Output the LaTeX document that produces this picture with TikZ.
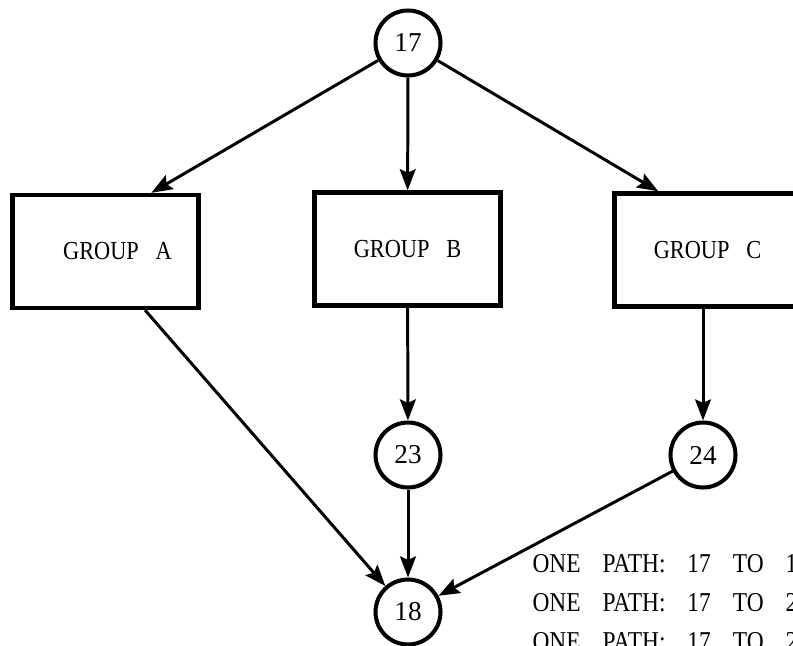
\documentclass[tikz,border=0pt]{standalone}
\usepackage{fontspec}
\setmainfont{Liberation Serif}
\newfontfamily\condfont[FakeStretch=0.86]{Liberation Serif}
\usetikzlibrary{arrows.meta, positioning, calc}

\newcommand{\gap}{\hspace{12.5pt}}

\begin{document}
\begin{tikzpicture}[->,>={Stealth[length=12pt,width=9pt,inset=2pt]},
            x=0.02cm,y=-0.02cm,line width=1.7pt,
            circ/.style={circle,draw,line width=2.3pt,minimum size=1.3cm,
               inner sep=0pt,font=\fontsize{15.5}{18}\selectfont},
            grp/.style={rectangle,draw,line width=2.5pt,minimum width=3.72cm,
               minimum height=2.26cm,font=\condfont\fontsize{14.8}{17}\selectfont},
            pathtext/.style={anchor=base west,inner sep=0pt,
               font=\condfont\fontsize{15.5}{18}\selectfont}]
            \clip (0,0) rectangle (793,645);
            % entry and the three groups
            \node[circ] (n17) at (408,43) {17};
            \node[grp] (grpA) at (105.5,251.5) {\hspace{0.48cm}GROUP\ \ \ A};
            \node[grp] (grpB) at (407.5,249) {GROUP\ \ \ B};
            \node[grp] (grpC) at (707.5,250) {GROUP\ \ \ C};
            \node[circ] (n23) at (408,455) {23};
            \node[circ] (n24) at (703,455) {24};
            \node[circ] (n18) at (408,612) {18};
            % connectors
            \draw (n17) -- (grpA.52);
            \draw (n17) -- (grpB);
            \draw (n17) -- (grpC.130);
            \draw (grpA.-56) -- (n18);
            \draw (grpB) -- (n23);
            \draw (n24 |- grpC.south) -- (n24);
            \draw (n23) -- (n18);
            \draw (n24) -- (n18);
            % paths
            \node[pathtext] (line1) at (531,572) {ONE\gap PATH:\gap 17\gap TO\gap 1};
            \node[pathtext] (line2) at (531,611) {ONE\gap PATH:\gap 17\gap TO\gap 2};
            \node[pathtext] (line3) at (531,650) {ONE\gap PATH:\gap 17\gap TO\gap 2};
\end{tikzpicture}
\end{document}
